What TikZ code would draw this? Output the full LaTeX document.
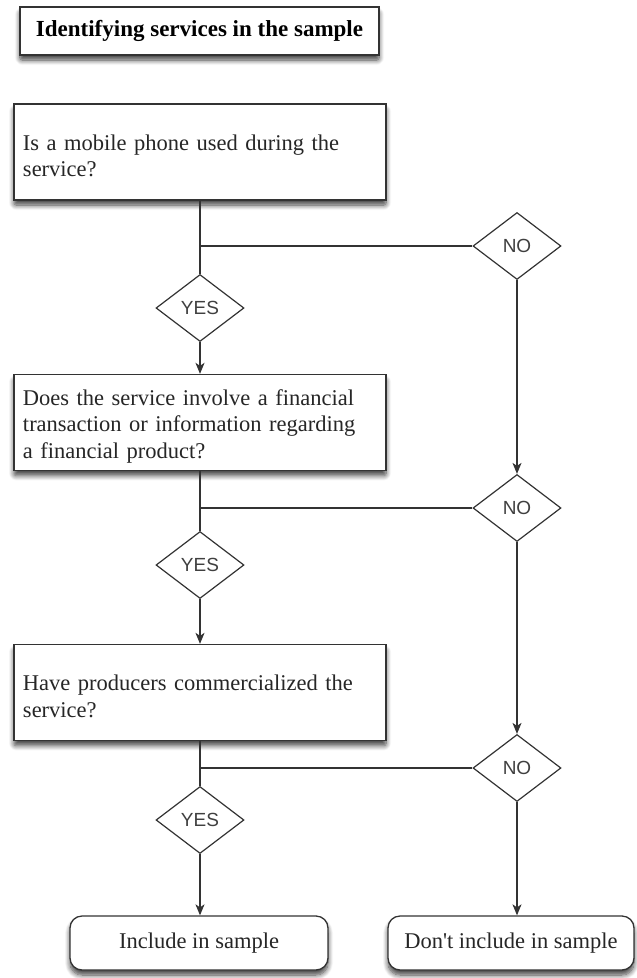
\documentclass[tikz,border=0pt]{standalone}
\usepackage{fontspec}
\setmainfont{Liberation Serif}
\newfontfamily\labelfont{Liberation Sans}
\usepackage{tikz}
\usetikzlibrary{shapes.geometric,arrows.meta,positioning,shadows.blur,calc}

\newcommand{\firstline}{\rule{0pt}{23pt}}

\begin{document}
\begin{tikzpicture}[
    x=1pt, y=1pt,
    font=\fontsize{22.5}{26.5}\selectfont,
    shade/.style={blur shadow={shadow xshift=0pt, shadow yshift=-5pt, shadow blur steps=8, shadow blur extra rounding=2pt, shadow opacity=75, shadow blur radius=5pt}},
    titlebox/.style={rectangle, draw=black!80, line width=1.3pt, fill=white, shade, minimum width=359pt, minimum height=48pt, font=\fontsize{23}{27}\selectfont\bfseries},
    qbox/.style={rectangle, draw=black!80, line width=1.3pt, fill=white, shade, text width=354pt, align=left, inner xsep=9pt, minimum height=96pt, text=black!85},
    decision/.style={diamond, draw=black!80, line width=1.2pt, fill=white, inner sep=0pt, minimum width=88pt, minimum height=67pt, font=\labelfont\fontsize{19}{21}\selectfont, text=black!75},
    endbox/.style={rectangle, rounded corners=12pt, draw=black!80, line width=1.3pt, fill=white, shade, minimum height=54pt, text=black!85},
    link/.style={line width=1.3pt, draw=black!80},
    arrow/.style={link, -{Stealth[length=11pt, width=9pt, inset=3pt]}}
]
\useasboundingbox (0,0) rectangle (637,-978);

\node[titlebox] (title) at (199.5,-31) {Identifying services in the sample};

% questions
\node[qbox] (q1) at (200,-152) {\firstline Is a mobile phone used during the\\service?};
\node[qbox] (q2) at (200,-422.5) {\firstline Does the service involve a financial\\transaction or information regarding\\a financial product?};
\node[qbox] (q3) at (200,-692.5) {\firstline Have producers commercialized the\\service?};

% answers
\node[decision] (yes1) at (200,-308) {YES};
\node[decision] (no1) at (517,-246) {NO};
\node[decision] (yes2) at (200,-565) {YES};
\node[decision] (no2) at (517,-508) {NO};
\node[decision] (yes3) at (200,-820) {YES};
\node[decision] (no3) at (517,-768) {NO};

% outcomes
\node[endbox, minimum width=258pt] (incl) at (199,-943) {Include in sample};
\node[endbox, minimum width=246pt] (dont) at (511,-943) {Don\textquotesingle t include in sample};

\coordinate (j1) at (q1.south |- no1.west);
\coordinate (j2) at (q2.south |- no2.west);
\coordinate (j3) at (q3.south |- no3.west);
\coordinate (e1) at (yes3.south |- incl.north);
\coordinate (e2) at (no3.south |- dont.north);

\draw[link] (q1.south) -- (yes1.north);
\draw[link] (j1) -- (no1.west);
\draw[arrow] (yes1.south) -- (q2.north);
\draw[arrow] (no1.south) -- (no2.north);

\draw[link] (q2.south) -- (yes2.north);
\draw[link] (j2) -- (no2.west);
\draw[arrow] (yes2.south) -- (q3.north);
\draw[arrow] (no2.south) -- (no3.north);

\draw[link] (q3.south) -- (yes3.north);
\draw[link] (j3) -- (no3.west);
\draw[arrow] (yes3.south) -- (e1);
\draw[arrow] (no3.south) -- (e2);

\end{tikzpicture}
\end{document}
